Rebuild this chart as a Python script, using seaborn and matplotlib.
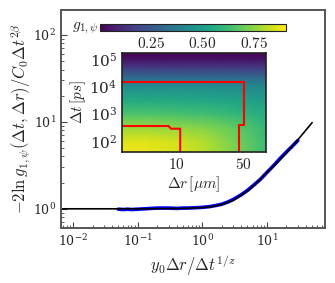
import numpy as np
import matplotlib
matplotlib.use("Agg")
import matplotlib.pyplot as plt
import seaborn as sns
import pandas as pd

# --- main collapse data ---
fit_x = [0.005, 0.1, 0.5, 1.0, 1.5, 2.0, 3.0, 5.0, 7.0, 10.0, 15.0, 20.0, 30.0, 50.0]
fit_y = [1.0, 1.0, 1.01, 1.03, 1.07, 1.12, 1.25, 1.6, 2.0, 2.62, 3.5, 4.4, 6.2, 9.8]

sim_x = [0.05, 0.06, 0.07, 0.08, 0.1, 0.13, 0.16, 0.2, 0.25, 0.3, 0.4, 0.5, 0.6,
         0.8, 1.0, 1.3, 1.6, 2.0, 2.5, 3.0, 4.0, 5.0, 6.5, 8.0, 10, 13, 16, 20, 25, 30]
sim_y = [0.99, 0.98, 0.99, 0.98, 0.99, 1.0, 1.01, 1.02, 1.02, 1.02, 1.01, 1.02, 1.02,
         1.03, 1.04, 1.06, 1.09, 1.13, 1.2, 1.28, 1.45, 1.63, 1.92, 2.2, 2.62, 3.2,
         3.8, 4.5, 5.3, 6.1]

# --- inset map g_{1,psi}(dr, dt) ---
dr_vals = [2.7, 5, 10, 20, 40, 87]
dt_vals = [40, 100, 300, 1e3, 3e3, 1e4, 2e4, 5e4, 1e5, 1.7e5]
g_vals = [
    [0.89, 0.88, 0.86, 0.81, 0.73, 0.62],
    [0.86, 0.86, 0.84, 0.80, 0.72, 0.62],
    [0.77, 0.77, 0.76, 0.74, 0.69, 0.60],
    [0.65, 0.65, 0.64, 0.63, 0.60, 0.56],
    [0.55, 0.55, 0.55, 0.54, 0.53, 0.51],
    [0.44, 0.44, 0.44, 0.44, 0.43, 0.42],
    [0.32, 0.32, 0.32, 0.32, 0.32, 0.31],
    [0.15, 0.15, 0.15, 0.15, 0.15, 0.15],
    [0.04, 0.04, 0.04, 0.04, 0.04, 0.04],
    [0.01, 0.01, 0.01, 0.01, 0.01, 0.01],
]

# red region boundaries
outer_dr = [2.0, 51, 51, 45, 45]
outer_dt = [13800, 13800, 390, 390, 20]
inner_dr = [2.0, 8.3, 8.8, 11, 11]
inner_dt = [355, 355, 283, 283, 20]

sns.set_style("ticks")
plt.rcParams["font.family"] = ["DejaVu Serif"]
plt.rcParams["mathtext.fontset"] = "cm"

fig = plt.figure(figsize=(3.35, 2.83), dpi=100)
ax = fig.add_axes([0.182, 0.194, 0.788, 0.771])

df_sim = pd.DataFrame({"x": sim_x, "y": sim_y})
df_fit = pd.DataFrame({"x": fit_x, "y": fit_y})
sns.lineplot(data=df_sim, x="x", y="y", ax=ax, color="#0000ff", lw=2.6,
             sort=False, estimator=None)
sns.lineplot(data=df_fit, x="x", y="y", ax=ax, color="black", lw=1.2,
             sort=False, estimator=None)
ax.set_xscale("log")
ax.set_yscale("log")
ax.set_xlim(0.0065, 79)
ax.set_ylim(0.6, 194)
ax.set_xlabel(r"$y_0\Delta r/\Delta t^{1/z}$", fontsize=12, labelpad=3)
ax.set_ylabel(r"$-2\ln g_{1,\psi}(\Delta t,\Delta r)/C_0\Delta t^{2\beta}$",
              fontsize=12, labelpad=1)
ax.tick_params(which="both", direction="in", labelsize=9, color="#444444")
ax.tick_params(which="major", length=4)
ax.tick_params(which="minor", length=2)
for s in ax.spines.values():
    s.set_color("#555555")
    s.set_linewidth(1.4)

# inset
ins = fig.add_axes([0.364, 0.463, 0.430, 0.350])
Xg, Yg = np.meshgrid(dr_vals, dt_vals)
mesh = ins.pcolormesh(Xg, Yg, np.array(g_vals), shading="gouraud",
                      cmap="viridis", vmin=0, vmax=0.907, rasterized=True)
sns.lineplot(x=outer_dr, y=outer_dt, ax=ins, color="red", lw=1.5,
             sort=False, estimator=None)
sns.lineplot(x=inner_dr, y=inner_dt, ax=ins, color="red", lw=1.5,
             sort=False, estimator=None)
ins.set_xscale("log")
ins.set_yscale("log")
ins.set_xlim(2.7, 87)
ins.set_ylim(40, 1.66e5)
ins.set_xticks([10, 50])
ins.set_xticklabels([r"$10$", r"$50$"])
ins.set_yticks([1e2, 1e3, 1e4, 1e5])
ins.yaxis.set_minor_locator(matplotlib.ticker.NullLocator())
ins.tick_params(which="both", direction="in", labelsize=11, color="#222222")
ins.tick_params(which="major", length=4)
ins.tick_params(which="minor", length=2)
ins.set_xlabel(r"$\Delta r\,[\mu m]$", fontsize=11, labelpad=2)
ins.set_ylabel(r"$\Delta t\,[ps]$", fontsize=11, labelpad=1)
for s in ins.spines.values():
    s.set_color("#222222")
    s.set_linewidth(1.2)

cax = fig.add_axes([0.2985, 0.8905, 0.555, 0.0247])
cb = fig.colorbar(mesh, cax=cax, orientation="horizontal")
cb.set_ticks([0.25, 0.5, 0.75])
cb.set_ticklabels([r"$0.25$", r"$0.50$", r"$0.75$"])
cax.tick_params(direction="in", length=3, labelsize=11, color="#222222")
cb.outline.set_edgecolor("#222222")
fig.text(0.293, 0.90, r"$g_{1,\psi}$", fontsize=11, ha="right", va="center")

fig.savefig("out.png", dpi=100)
